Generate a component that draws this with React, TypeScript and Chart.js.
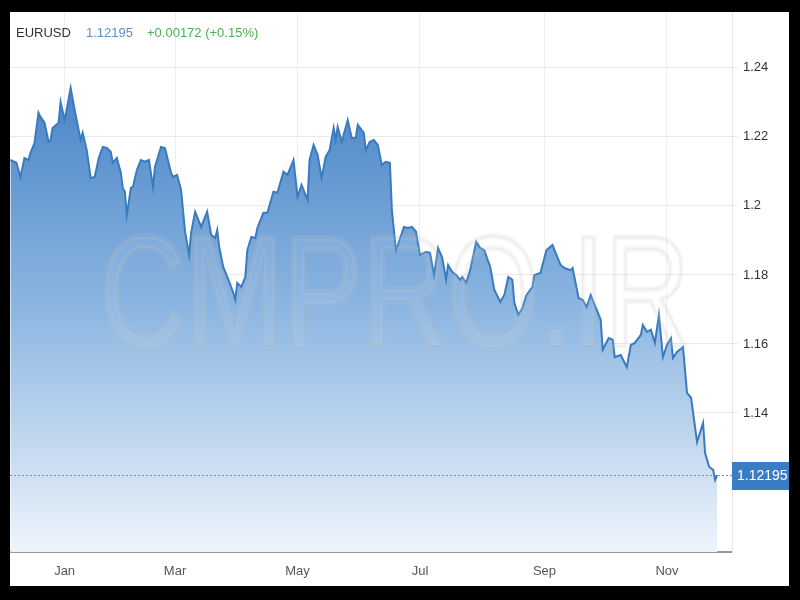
import React, { useEffect, useRef } from "react";
import { Chart, registerables } from "chart.js";

Chart.register(...registerables);

// ---- data ----
const symbol = "EURUSD";
const lastPrice = 1.12195;
const lastPriceText = "1.12195";
const changeText = "+0.00172 (+0.15%)";
const watermarkText = "CMPRO.IR";

// day of year (0 = Jan 1), negative = previous December
const days = [
  -23, -20, -18, -16, -14, -13, -11, -9, -8, -6,
  -4, -3, -2, 1, 2, 4, 5, 7, 9, 11,
  12, 13, 15, 17, 19, 21, 23, 25, 27, 28,
  30, 32, 33, 34, 35, 37, 38, 40, 42, 44,
  46, 48, 49, 52, 54, 57, 58, 60, 62, 64,
  66, 67, 69, 71, 72, 75, 77, 79, 80, 81,
  83, 85, 86, 88, 89, 90, 92, 94, 95, 97,
  99, 100, 103, 105, 108, 110, 113, 115, 118, 120,
  122, 125, 126, 128, 130, 132, 134, 136, 138, 139,
  140, 142, 145, 147, 149, 150, 153, 154, 156, 158,
  160, 162, 164, 166, 167, 169, 170, 173, 175, 177,
  179, 181, 184, 186, 188, 190, 192, 194, 195, 197,
  199, 201, 202, 204, 206, 209, 211, 213, 216, 218,
  221, 223, 225, 227, 228, 230, 232, 234, 237, 238,
  241, 244, 247, 248, 251, 253, 256, 257, 260, 262,
  264, 266, 268, 271, 272, 275, 277, 278, 281, 284,
  286, 288, 291, 292, 294, 296, 298, 300, 302, 304,
  306, 307, 309, 312, 314, 316, 319, 322, 323, 325,
  327, 328, 329,
];

const prices = [
  1.2133, 1.2125, 1.2084, 1.2139, 1.2133, 1.2154, 1.2183, 1.227, 1.2258, 1.2241,
  1.2186, 1.2191, 1.2226, 1.2241, 1.2301, 1.2249, 1.2278, 1.2342, 1.2278, 1.222,
  1.2191, 1.2212, 1.2162, 1.2081, 1.2084, 1.2139, 1.2171, 1.2168, 1.2157, 1.2125,
  1.2139, 1.2096, 1.2052, 1.2041, 1.1974, 1.2052, 1.2055, 1.2104, 1.2133, 1.2128,
  1.2133, 1.2055, 1.2113, 1.2171, 1.2168, 1.2096, 1.2084, 1.209, 1.2046, 1.1925,
  1.1858, 1.1922, 1.1983, 1.1954, 1.1939, 1.1983, 1.1916, 1.1907, 1.193, 1.1881,
  1.1823, 1.1794, 1.178, 1.1748, 1.1728, 1.1777, 1.1765, 1.1794, 1.1872, 1.191,
  1.1907, 1.1936, 1.198, 1.198, 1.2041, 1.2038, 1.2099, 1.209, 1.2133, 1.2026,
  1.2061, 1.2017, 1.2133, 1.2177, 1.2148, 1.2081, 1.2142, 1.2162, 1.2226, 1.2191,
  1.2229, 1.2186, 1.2249, 1.2197, 1.2197, 1.2235, 1.2212, 1.2162, 1.2186, 1.2191,
  1.2177, 1.2119, 1.2128, 1.2125, 1.1988, 1.1872, 1.1887, 1.1939, 1.1936, 1.1939,
  1.1925, 1.1858, 1.1867, 1.1864, 1.18, 1.1878, 1.1852, 1.1786, 1.1829, 1.1809,
  1.18, 1.1786, 1.1794, 1.1777, 1.1814, 1.1896, 1.1878, 1.1872, 1.1823, 1.1757,
  1.1722, 1.1742, 1.1794, 1.1786, 1.1719, 1.1684, 1.1704, 1.1742, 1.1765, 1.18,
  1.1806, 1.1872, 1.1887, 1.1872, 1.1829, 1.182, 1.1814, 1.182, 1.1733, 1.1728,
  1.1707, 1.1742, 1.1713, 1.167, 1.1583, 1.1617, 1.1612, 1.1562, 1.1568, 1.1533,
  1.1597, 1.1603, 1.1626, 1.1655, 1.1635, 1.1641, 1.1603, 1.1684, 1.1562, 1.1597,
  1.1617, 1.1559, 1.1577, 1.1591, 1.1458, 1.1444, 1.1316, 1.1371, 1.1284, 1.1244,
  1.1235, 1.1206, 1.12195,
];

const monthTickDays = [4, 59, 120, 181, 243, 304];
const monthLabels = ["Jan", "Mar", "May", "Jul", "Sep", "Nov"];
const yTickValues = [1.14, 1.16, 1.18, 1.2, 1.22, 1.24];

const xMin = -23.2;
const xMax = 336.4;
const yMin = 1.0997;
const yMax = 1.2562;

const FONT = '"Liberation Sans", Arial, Helvetica, sans-serif';

const overlayPlugin = {
  id: "overlay",
  afterDatasetsDraw(chart: any) {
    const ctx = chart.ctx as CanvasRenderingContext2D;
    const area = chart.chartArea;
    const yScale = chart.scales.y;

    // watermark
    ctx.save();
    ctx.font = `158px ${FONT}`;
    const w = ctx.measureText(watermarkText).width;
    const sx = 590 / w;
    ctx.translate(385, 334);
    ctx.scale(sx, 1);
    ctx.textAlign = "center";
    ctx.textBaseline = "alphabetic";
    ctx.lineJoin = "round";
    ctx.lineWidth = 6;
    ctx.strokeStyle = "rgba(200,200,200,0.16)";
    ctx.strokeText(watermarkText, 0, 0);
    ctx.lineWidth = 1.5;
    ctx.strokeStyle = "rgba(150,150,150,0.10)";
    ctx.strokeText(watermarkText, 0, 0);
    ctx.fillStyle = "rgba(255,255,255,0.07)";
    ctx.fillText(watermarkText, 0, 0);
    ctx.restore();

    // dotted last-price line
    const py = Math.round(yScale.getPixelForValue(lastPrice)) + 0.5;
    ctx.save();
    ctx.strokeStyle = "#8c8c8c";
    ctx.lineWidth = 1;
    ctx.setLineDash([2, 2]);
    ctx.beginPath();
    ctx.moveTo(area.left, py);
    ctx.lineTo(area.right + 4, py);
    ctx.stroke();
    ctx.restore();

    // price box
    ctx.save();
    ctx.fillStyle = "#3a7dc4";
    ctx.fillRect(area.right, py - 13.5, chart.width - area.right, 28);
    ctx.fillStyle = "#ffffff";
    ctx.font = `14px ${FONT}`;
    ctx.textAlign = "left";
    ctx.textBaseline = "middle";
    ctx.fillText(lastPriceText, area.right + 5, py + 1);
    ctx.restore();
  },
};

export default function App() {
  const canvasRef = useRef<HTMLCanvasElement | null>(null);

  useEffect(() => {
    const canvas = canvasRef.current;
    if (!canvas) return;
    const points = days.map((d, i) => ({ x: d, y: prices[i] }));

    const chart = new Chart(canvas, {
      type: "line",
      data: {
        datasets: [
          {
            data: points,
            borderColor: "#3a7bbf",
            borderWidth: 2,
            pointRadius: 0,
            tension: 0,
            fill: "start",
            backgroundColor: (c: any) => {
              const area = c.chart.chartArea;
              if (!area) return "rgba(80,140,200,0.5)";
              const g = c.chart.ctx.createLinearGradient(0, area.top, 0, area.bottom);
              g.addColorStop(0, "rgb(52,116,190)");
              g.addColorStop(0.55, "rgb(140,182,225)");
              g.addColorStop(1, "rgb(238,244,251)");
              return g;
            },
          },
        ],
      },
      options: {
        responsive: false,
        animation: false,
        layout: { padding: 0 },
        plugins: { legend: { display: false }, tooltip: { enabled: false } },
        scales: {
          x: {
            type: "linear",
            min: xMin,
            max: xMax,
            afterBuildTicks: (s: any) => {
              s.ticks = monthTickDays.map((v) => ({ value: v }));
            },
            afterFit: (s: any) => {
              s.height = 34;
              s.paddingLeft = 0;
              s.paddingRight = 0;
            },
            ticks: {
              autoSkip: false,
              maxRotation: 0,
              padding: 12,
              color: "#555555",
              font: { size: 13, family: FONT },
              callback: (v: any) => {
                const i = monthTickDays.indexOf(Number(v));
                return i >= 0 ? monthLabels[i] : "";
              },
            },
            grid: { color: "#efefef", drawTicks: false },
            border: { color: "#999999", width: 2 },
          },
          y: {
            position: "right",
            min: yMin,
            max: yMax,
            afterBuildTicks: (s: any) => {
              s.ticks = yTickValues.map((v) => ({ value: v }));
            },
            afterFit: (s: any) => {
              s.width = 57;
              s.paddingTop = 0;
              s.paddingBottom = 0;
            },
            ticks: {
              padding: 5,
              color: "#333333",
              font: { size: 13, family: FONT },
              callback: (v: any) => String(Number(Number(v).toFixed(2))),
            },
            grid: { color: "#e9e9e9", tickLength: 6 },
            border: { color: "#e6e6e6", width: 1 },
          },
        },
      },
      plugins: [overlayPlugin],
    } as any);

    return () => chart.destroy();
  }, []);

  return (
    <div
      style={{
        position: "fixed",
        left: 0,
        top: 0,
        width: 800,
        height: 600,
        background: "#000",
        fontFamily: FONT,
      }}
    >
      <div
        style={{
          position: "absolute",
          left: 10,
          top: 12,
          width: 779,
          height: 574,
          background: "#fff",
          overflow: "hidden",
        }}
      >
        <canvas ref={canvasRef} width={779} height={574} style={{ display: "block" }} />
        <div style={{ position: "absolute", left: 0, top: 13, fontSize: 13, lineHeight: "15px" }}>
          <span style={{ position: "absolute", left: 6, color: "#333", whiteSpace: "nowrap" }}>{symbol}</span>
          <span style={{ position: "absolute", left: 76, color: "#5b8fc9", whiteSpace: "nowrap" }}>{lastPriceText}</span>
          <span style={{ position: "absolute", left: 137, color: "#4cb050", whiteSpace: "nowrap" }}>{changeText}</span>
        </div>
      </div>
    </div>
  );
}
